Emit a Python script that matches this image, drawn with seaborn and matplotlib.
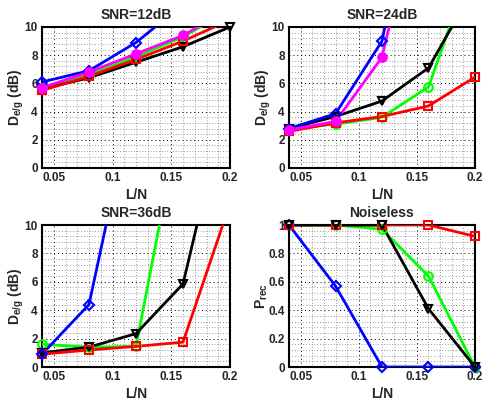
import numpy as np
import pandas as pd
import matplotlib
matplotlib.use("Agg")
import matplotlib.pyplot as plt
from matplotlib.ticker import MultipleLocator
import seaborn as sns

sns.set_style("white")
plt.rcParams['font.family'] = ['Liberation Sans', 'DejaVu Sans']
plt.rcParams['font.weight'] = 'bold'
plt.rcParams['mathtext.fontset'] = 'custom'
plt.rcParams['mathtext.rm'] = 'Liberation Sans:bold'
plt.rcParams['mathtext.it'] = 'Liberation Sans:bold'
plt.rcParams['mathtext.bf'] = 'Liberation Sans:bold'

# x values (L/N)
ln = [0.04, 0.08, 0.12, 0.16, 0.2]
xtick_vals = [0.05, 0.1, 0.15, 0.2]
xtick_labels = ['0.05', '0.1', '0.15', '0.2']
dtick_vals = [0, 2, 4, 6, 8, 10]
dtick_labels = ['0', '2', '4', '6', '8', '10']
ptick_vals = [0, 0.2, 0.4, 0.6, 0.8, 1.0]
ptick_labels = ['0', '0.2', '0.4', '0.6', '0.8', '1']

# SNR = 12 dB
snr12_blue = [6.1, 6.9, 8.9, 11.6, 14.0]
snr12_green = [5.7, 6.6, 7.9, 9.3, 11.2]
snr12_black = [5.6, 6.4, 7.5, 8.6, 10.0]
snr12_red = [5.5, 6.5, 7.7, 9.0, 10.5]
snr12_magenta = [5.7, 6.8, 8.1, 9.4, 11.3]

# SNR = 24 dB
snr24_blue = [2.8, 3.85, 9.0, 25.0, 40.0]
snr24_green = [2.8, 3.1, 3.6, 5.75, 15.1]
snr24_black = [2.8, 3.65, 4.75, 7.1, 12.9]
snr24_red = [2.6, 3.2, 3.65, 4.4, 6.45]
snr24_magenta = [2.7, 3.3, 7.85, 22.0, 40.0]

# SNR = 36 dB
snr36_blue = [0.9, 4.4, 19.8, 40.0, 40.0]
snr36_green = [1.6, 1.4, 1.45, 18.6, 40.0]
snr36_black = [1.0, 1.4, 2.35, 5.85, 19.8]
snr36_red = [0.9, 1.2, 1.45, 1.75, 11.5]

# noiseless, recovery probability
nl_blue = [1.0, 0.57, 0.0, 0.0, 0.0]
nl_green = [1.0, 1.0, 0.97, 0.64, 0.0]
nl_black = [1.0, 1.0, 1.0, 0.41, 0.0]
nl_red = [1.0, 1.0, 1.0, 1.0, 0.92]

W, H = 484, 401
fig = plt.figure(figsize=(W / 100, H / 100), dpi=100)

# axes boxes in pixels: left, top, right, bottom
boxes = [(42, 27, 230, 168), (289, 27, 475, 168),
         (42, 225, 230, 367), (289, 225, 475, 367)]
axs = []
for l, t, r, b in boxes:
    axs.append(fig.add_axes([l / W, 1 - b / H, (r - l) / W, (b - t) / H]))

sty = {'blue': ('#0000ff', 'D', 'none'),
       'green': ('#00ff00', 'o', 'none'),
       'red': ('#ff0000', 's', 'none'),
       'black': ('#000000', 'v', 'none'),
       'magenta': ('#ff00ff', 'o', '#ff00ff')}

panels = [
    ('SNR=12dB', [('green', snr12_green), ('black', snr12_black), ('red', snr12_red),
                  ('blue', snr12_blue), ('magenta', snr12_magenta)], 10),
    ('SNR=24dB', [('green', snr24_green), ('red', snr24_red), ('black', snr24_black),
                  ('blue', snr24_blue), ('magenta', snr24_magenta)], 10),
    ('SNR=36dB', [('green', snr36_green), ('black', snr36_black), ('red', snr36_red),
                  ('blue', snr36_blue)], 10),
    ('Noiseless', [('green', nl_green), ('blue', nl_blue), ('red', nl_red),
                   ('black', nl_black)], 1),
]

for ax, (title, series, ymax) in zip(axs, panels):
    for name, vals in series:
        c, m, fc = sty[name]
        df = pd.DataFrame({'x': ln, 'y': vals})
        # lines clipped to the box
        sns.lineplot(data=df, x='x', y='y', ax=ax, color=c, lw=2, zorder=3)
        # markers inside range, not clipped at the edges
        dd = df[df.y <= ymax * 1.001]
        mk = ax.plot(dd.x, dd.y, ls='none', marker=m, ms=6.2 if m != 'D' else 5.5,
                     mec=c, mfc=fc, mew=1.5, zorder=4)
        for a in mk:
            a.set_clip_on(False)

    ax.set_xticks(xtick_vals, xtick_labels)
    ax.xaxis.set_minor_locator(MultipleLocator(0.01))
    if ymax == 10:
        ax.set_yticks(dtick_vals, dtick_labels)
        ax.yaxis.set_minor_locator(MultipleLocator(0.4))
        ax.set_ylabel(r'D$_{e/g}$ (dB)', fontsize=10, fontweight='bold')
        ax.yaxis.set_label_coords(-0.085, 0.5)
    else:
        ax.set_yticks(ptick_vals, ptick_labels)
        ax.yaxis.set_minor_locator(MultipleLocator(0.04))
        ax.set_ylabel(r'P$_{rec}$', fontsize=10, fontweight='bold')
        ax.yaxis.set_label_coords(-0.10, 0.5)
    ax.set_xlim(0.04, 0.2)
    ax.set_ylim(0, ymax)
    ax.set_xlabel('L/N', fontsize=10, fontweight='bold')
    ax.xaxis.set_label_coords(0.5, -0.14)
    ax.set_title(title, fontsize=10, fontweight='bold', pad=6)

    # dotted major + minor grid
    ax.grid(True, which='major', color='black', ls=(0, (1, 3)), lw=0.7)
    ax.grid(True, which='minor', color='#444444', ls=(0, (1, 3)), lw=0.5)
    ax.set_axisbelow(True)
    ax.tick_params(which='both', direction='in', labelsize=8.5, pad=3)
    ax.tick_params(which='major', length=3, width=1)
    ax.tick_params(which='minor', length=0)
    for lbl in ax.get_xticklabels() + ax.get_yticklabels():
        lbl.set_fontweight('bold')
    for s in ax.spines.values():
        s.set_linewidth(1.5)
        s.set_color('black')
    if ax.get_legend() is not None:
        ax.get_legend().remove()

fig.savefig('out.png', dpi=100)
